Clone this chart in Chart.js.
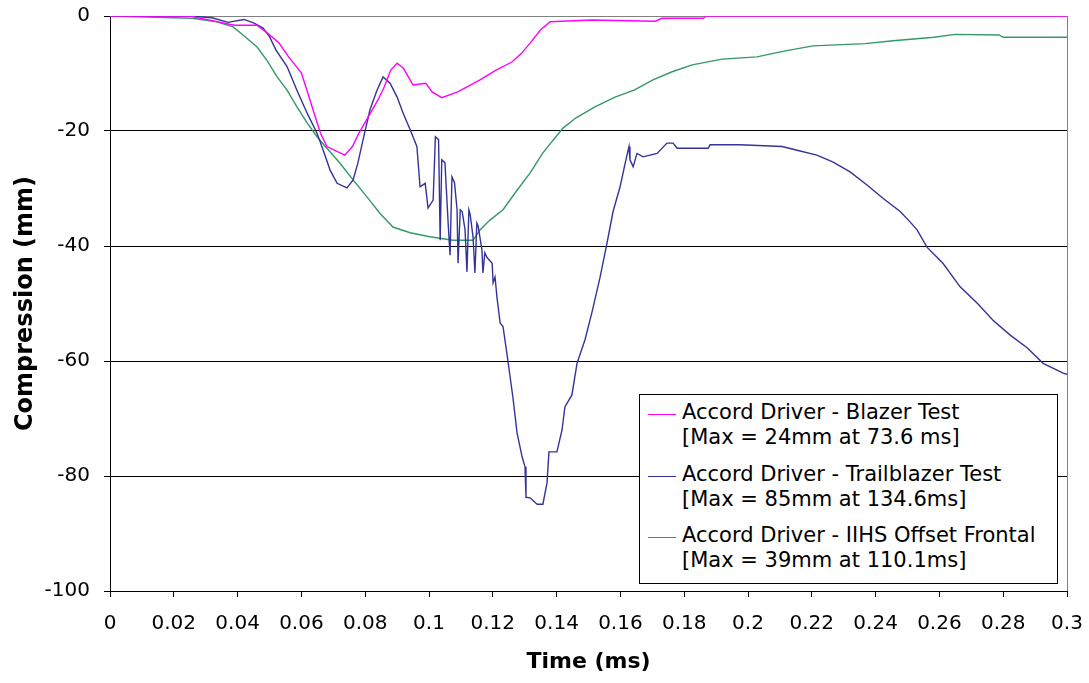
<!DOCTYPE html>
<html lang="en">

<head>
    <meta charset="UTF-8">
    <title>Compression</title>
    <script src="https://cdn.jsdelivr.net/npm/chart.js"></script>
    <style>
        body { margin: 0; background: #fff; }
        .quadro { position: relative; width: 1089px; height: 683px; }
        .legenda {
            position: absolute; left: 639px; top: 394px; width: 417px; height: 188px;
            border: 1px solid #000; background: #fff;
            font-family: "DejaVu Sans"; font-size: 21px; line-height: 25px; color: #000;
        }
        .item { position: absolute; left: 42px; white-space: nowrap; }
        .linha { position: absolute; left: -34px; top: 14px; width: 28px; height: 1px; }
    </style>
</head>

<body>
    <div class="quadro">
        <canvas id="grafico"></canvas>

        <!-- legenda -->
        <div class="legenda">
            <div class="item" style="top:5px"><span class="linha" style="background:#FF00FF"></span>Accord Driver - Blazer Test<br>[Max = 24mm at 73.6 ms]</div>
            <div class="item" style="top:67px"><span class="linha" style="background:#333399"></span>Accord Driver - Trailblazer Test<br>[Max = 85mm at 134.6ms]</div>
            <div class="item" style="top:128px"><span class="linha" style="background:#339966"></span>Accord Driver - IIHS Offset Frontal<br>[Max = 39mm at 110.1ms]</div>
        </div>
    </div>

    <script>

        // Blazer test
        const tempoBlazer = [0, 0.025, 0.032, 0.039, 0.046, 0.049, 0.053, 0.056, 0.060, 0.062, 0.064, 0.066, 0.068, 0.0736,
            0.076, 0.078, 0.081, 0.084, 0.086, 0.088, 0.090, 0.092, 0.095, 0.099, 0.101, 0.104, 0.109, 0.116, 0.121, 0.126,
            0.129, 0.132, 0.135, 0.138, 0.151, 0.171, 0.173, 0.186, 0.187, 0.3];
        const compBlazer = [0, 0, -0.8, -1.6, -1.6, -2.8, -4.7, -7.1, -9.9, -13.4, -16.9, -20.4, -22.7, -24.2,
            -22.7, -20.4, -17.5, -14.6, -12.3, -9.4, -8.2, -9.1, -12, -11.7, -13.2, -14.2, -13.2, -11.1, -9.4, -8,
            -6.5, -4.5, -2.4, -1, -0.7, -0.9, -0.4, -0.4, 0, 0];

        // Trailblazer test
        const tempoTrail = [0, 0.025, 0.032, 0.037, 0.042, 0.045, 0.048, 0.050, 0.052, 0.0555, 0.0586, 0.0618, 0.0649, 0.0668,
            0.069, 0.0712, 0.0743, 0.0762, 0.0777, 0.0793, 0.0815, 0.0837, 0.0856, 0.0878, 0.090, 0.0919, 0.0941, 0.0962,
            0.0972, 0.0988, 0.0997, 0.1013, 0.1020, 0.1030, 0.1035, 0.1040, 0.1050, 0.1060, 0.1066, 0.1072, 0.1080, 0.1088,
            0.1091, 0.1098, 0.1104, 0.1113, 0.1119, 0.1125, 0.1129, 0.1138, 0.1144, 0.1150, 0.1154, 0.1166, 0.1169, 0.1175,
            0.1182, 0.1198, 0.1201, 0.1207, 0.1213, 0.1223, 0.1232, 0.1245, 0.1263, 0.1276, 0.1292, 0.1301, 0.1304, 0.1317,
            0.1339, 0.1357, 0.1370, 0.1376, 0.1401, 0.1417, 0.1426, 0.1448, 0.1464, 0.1489, 0.1511, 0.1536, 0.1558, 0.1577,
            0.1599, 0.1615, 0.1627, 0.1630, 0.1640, 0.1652, 0.1671, 0.1693, 0.1715, 0.1746, 0.1765, 0.1778, 0.1875, 0.1881,
            0.1975, 0.2107, 0.2157, 0.2216, 0.2267, 0.2320, 0.2373, 0.2423, 0.2477, 0.2508, 0.2530, 0.2561, 0.2611, 0.2665,
            0.2718, 0.2768, 0.2822, 0.2875, 0.2925, 0.2988, 0.3];
        const compTrail = [0, 0, -0.3, -1.1, -0.6, -1.2, -2.1, -3.6, -5.9, -8.8, -12.9, -16.9, -20.4, -23.3,
            -26.8, -29.1, -29.9, -28.5, -25.6, -21.6, -16.3, -12.9, -10.6, -11.7, -14.1, -16.9, -19.8, -22.7,
            -29.7, -29.1, -33.4, -32, -21, -21.5, -39, -25, -25.5, -36, -41.6, -28, -29, -33.7,
            -43, -33.7, -34, -37.2, -44.5, -33.7, -34.5, -38.4, -44.7, -36, -36.5, -40.7, -44.7, -41.2,
            -42, -43, -46.4, -45.4, -48.9, -53.4, -54, -59, -66.3, -72.5, -76.7, -78.4, -83.7, -83.8,
            -84.9, -84.9, -81.2, -75.8, -75.8, -72, -68, -65.9, -60.4, -56.3, -51.5, -45.5, -39.5, -34,
            -29.7, -25.6, -22.7, -25, -26.2, -23.9, -24.5, -24.2, -23.9, -22.1, -22.1, -23, -23, -22.4,
            -22.4, -22.7, -23.4, -24.2, -25.4, -27.1, -29.4, -31.7, -34, -35.8, -37.2, -40.2, -43, -47.1,
            -49.9, -52.9, -55.5, -57.7, -60.4, -62.1, -62.3];

        // IIHS offset frontal
        const tempoIihs = [0, 0.0257, 0.0335, 0.0386, 0.0417, 0.0461, 0.0492, 0.0524, 0.0555, 0.0586, 0.0618, 0.0649, 0.068,
            0.0721, 0.0762, 0.0806, 0.0846, 0.0887, 0.0941, 0.1003, 0.1075, 0.1138, 0.116, 0.1191, 0.1232, 0.1276, 0.1317,
            0.1357, 0.142, 0.1461, 0.152, 0.1583, 0.1643, 0.1702, 0.1762, 0.1825, 0.1919, 0.2028, 0.2113, 0.2204, 0.2367,
            0.2455, 0.2583, 0.2649, 0.2787, 0.28, 0.3];
        const compIihs = [0, -0.4, -1, -1.9, -3.3, -5.4, -7.7, -10.6, -12.9, -15.8, -18.6, -21, -23,
            -25.6, -28.5, -31.5, -34.3, -36.7, -37.7, -38.4, -39, -39, -37.2, -35.5, -33.7, -30.3, -27.3,
            -23.8, -19.5, -17.7, -15.8, -14.1, -12.9, -11.1, -9.7, -8.5, -7.5, -7.1, -6.1, -5.2, -4.8,
            -4.3, -3.7, -3.2, -3.3, -3.7, -3.7];

        const nomes = ['Accord Driver - Blazer Test', 'Accord Driver - Trailblazer Test', 'Accord Driver - IIHS Offset Frontal'];

        function pontos(tempo, comp) {
            return tempo.map((t, i) => ({ x: t, y: comp[i] }));
        }

        const fonteTick = { family: 'DejaVu Sans', size: 20 };
        const fonteTitulo = { family: 'DejaVu Sans', size: 22, weight: 'bold' };

        new Chart(document.getElementById('grafico'), {
            type: 'line',
            data: {
                datasets: [
                    { label: nomes[0], data: pontos(tempoBlazer, compBlazer), borderColor: '#FF00FF', borderWidth: 1.4, pointRadius: 0, tension: 0 },
                    { label: nomes[1], data: pontos(tempoTrail, compTrail), borderColor: '#333399', borderWidth: 1.4, pointRadius: 0, tension: 0 },
                    { label: nomes[2], data: pontos(tempoIihs, compIihs), borderColor: '#339966', borderWidth: 1.4, pointRadius: 0, tension: 0 }
                ]
            },
            options: {
                responsive: true,
                maintainAspectRatio: false,
                animation: false,
                layout: { padding: { top: 16, right: 22, left: 0, bottom: 0 } },
                plugins: {
                    legend: { display: false },
                    tooltip: { enabled: false }
                },
                scales: {
                    x: {
                        type: 'linear',
                        min: 0,
                        max: 0.3,
                        ticks: {
                            stepSize: 0.02,
                            autoSkip: false,
                            maxRotation: 0,
                            padding: 15,
                            color: '#000',
                            font: fonteTick,
                            callback: (v) => String(Number(v.toFixed(2)))
                        },
                        grid: {
                            color: (c) => (c.tick && Math.abs(c.tick.value - 0.3) < 1e-9) ? '#808080' : 'rgba(0,0,0,0)',
                            tickColor: '#000',
                            tickLength: 6
                        },
                        border: { color: '#000' },
                        title: { display: true, text: 'Time (ms)', color: '#000', font: fonteTitulo, padding: { top: 0, bottom: 8 } },
                        afterFit: (s) => {
                            s.height = 92;
                            s.paddingLeft = 0;
                            s.paddingRight = 0;
                        }
                    },
                    y: {
                        min: -100,
                        max: 0,
                        ticks: {
                            stepSize: 20,
                            padding: 14,
                            color: '#000',
                            font: fonteTick
                        },
                        grid: {
                            color: (c) => (c.tick && c.tick.value === 0) ? '#808080' : '#000',
                            tickColor: '#000',
                            tickLength: 6
                        },
                        border: { color: '#000' },
                        title: { display: true, text: 'Compression (mm)', color: '#000', font: { family: 'DejaVu Sans', size: 24, weight: 'bold' }, padding: { top: 11, bottom: 0 } },
                        afterFit: (s) => {
                            s.width = 110;
                            s.paddingTop = 0;
                            s.paddingBottom = 0;
                        }
                    }
                }
            }
        });

    </script>
</body>

</html>
